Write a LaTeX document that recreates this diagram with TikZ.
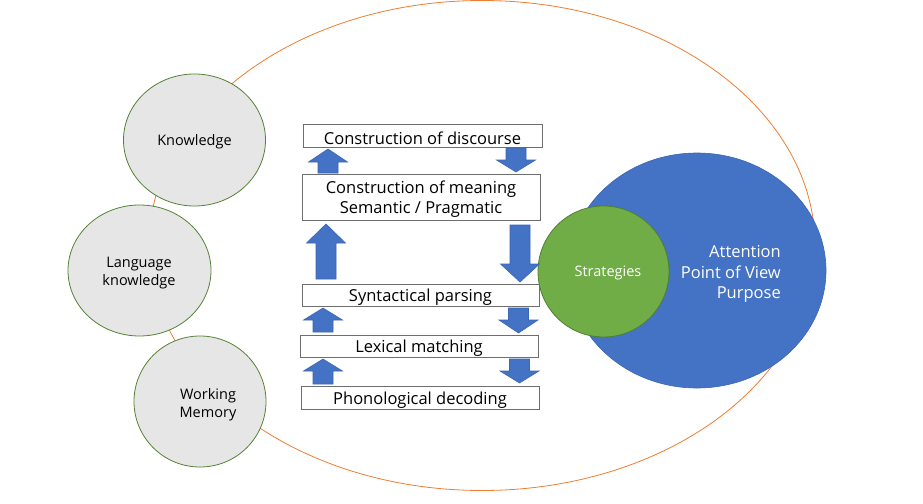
\documentclass[tikz,border=0pt]{standalone}
\usepackage{fontspec}
\setmainfont{Open Sans}
\usepackage{tikz}
\usetikzlibrary{shapes.geometric}

\definecolor{ringorange}{HTML}{ED7D31}
\definecolor{circgray}{HTML}{E7E6E6}
\definecolor{circline}{HTML}{548235}
\definecolor{arrblue}{HTML}{4472C4}
\definecolor{arrline}{HTML}{3A66B5}
\definecolor{stratgreen}{HTML}{70AD47}
\definecolor{stratline}{HTML}{507E32}
\definecolor{boxline}{HTML}{6E6E6E}

\tikzset{
  factor/.style={ellipse, fill=circgray, draw=circline, line width=0.8pt},
  factortext/.style={align=center, inner sep=0pt, font=\fontsize{14.5}{18}\selectfont},
  stage/.style={draw=boxline, line width=1pt, fill=white, inner sep=0pt, align=center,
    font=\fontsize{16.5}{20}\selectfont},
  blockarr/.style={fill=arrblue, draw=arrline, line width=0.6pt},
}
% #1 centre x, #2 tip, #3 head base, #4 tail
\newcommand{\blkarrow}[4]{%
  \draw[blockarr] (#1-10,#4) -- (#1-10,#3) -- (#1-19.5,#3) -- (#1,#2)
    -- (#1+19.5,#3) -- (#1+10,#3) -- (#1+10,#4) -- cycle;}
% sits a line of box text a little lower
\newcommand{\stageline}[1]{\raisebox{-2.5pt}[\height][\depth]{#1}}

\begin{document}
\begin{tikzpicture}[x=1pt,y=-1pt]

\useasboundingbox (0,0) rectangle (923,503);

\draw[ringorange, line width=0.8pt] (482,245.5) ellipse [x radius=333, y radius=245];

%three grey circles on the left
\node[factor, minimum width=142, minimum height=132] (know) at (194.5,140) {};
\node[factortext] (knowtext) at (194.5,141.5) {Knowledge};
\node[factor, minimum width=143, minimum height=131] (lang) at (139.5,270.5) {};
\node[factortext] (langtext) at (139,273.5) {Language\\knowledge};
\node[factor, minimum width=132, minimum height=131] (wm) at (200,401.5) {};
\node[factortext] (wmtext) at (208,404.5) {Working\\Memory};

\node[ellipse, fill=arrblue, draw=arrline, line width=0.6pt,
  minimum width=258, minimum height=235] (focus) at (697,270.5) {};
\node[ellipse, fill=stratgreen, draw=stratline, line width=0.8pt,
  minimum width=131, minimum height=131] (strat) at (603.5,271.5) {};
\node[factortext, text=white] (strattext) at (608,273) {Strategies};
\node[anchor=east, align=right, inner sep=0pt, text=white,
  font=\fontsize{16.5}{20.5}\selectfont] (focustext) at (781,274)
  {Attention\\Point of View\\Purpose};

\node[stage, minimum width=239, minimum height=23] (discourse) at (422.5,135.5) {\stageline{Construction of discourse}};
\node[stage, minimum width=238, minimum height=46] (meaning) at (421,197)
  {\stageline{Construction of meaning}\\\stageline{Semantic / Pragmatic}};
\node[stage, minimum width=237, minimum height=22] (syntax) at (420.5,295) {\stageline{Syntactical parsing}};
\node[stage, minimum width=238, minimum height=22] (lexical) at (419,346) {\stageline{Lexical matching}};
\node[stage, minimum width=238, minimum height=23] (phono) at (420,397.5) {\stageline{Phonological decoding}};

%up on the left, down on the right
\blkarrow{328}{149}{162}{173}
\blkarrow{326}{224}{243}{279}
\blkarrow{323}{308}{320}{332}
\blkarrow{323}{359}{371}{384}
\blkarrow{516}{172}{160}{148}
\blkarrow{520}{282}{264}{225}
\blkarrow{518.5}{333}{320}{308}
\blkarrow{519.5}{383}{371}{359}

\end{tikzpicture}
\end{document}
